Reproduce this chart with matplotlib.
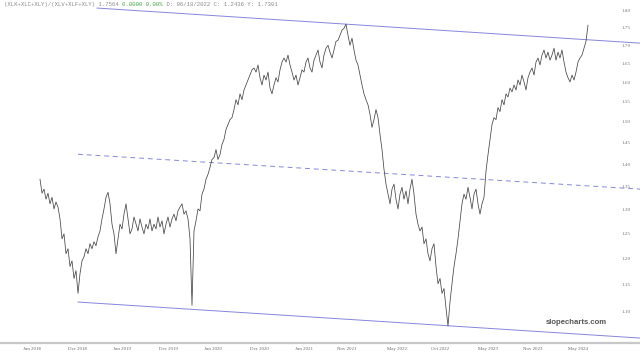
import matplotlib
matplotlib.use("Agg")
import matplotlib.pyplot as plt
import matplotlib.transforms as mtransforms
from matplotlib.ticker import NullLocator

# ---- data -------------------------------------------------------------
ratio = [
    1.367, 1.336, 1.345, 1.323, 1.336, 1.313, 1.327, 1.302, 1.317, 1.306,
    1.281, 1.240, 1.250, 1.210, 1.220, 1.185, 1.196, 1.162, 1.177, 1.134,
    1.171, 1.196, 1.204, 1.220, 1.210, 1.230, 1.220, 1.234, 1.226, 1.244,
    1.256, 1.281, 1.302, 1.327, 1.338, 1.313, 1.270, 1.250, 1.210, 1.240,
    1.270, 1.260, 1.291, 1.313, 1.281, 1.250, 1.260, 1.285, 1.270, 1.256,
    1.281, 1.264, 1.250, 1.270, 1.260, 1.281, 1.256, 1.270, 1.260, 1.285,
    1.264, 1.277, 1.250, 1.270, 1.285, 1.264, 1.281, 1.291, 1.277, 1.298,
    1.306, 1.313, 1.291, 1.298, 1.281, 1.240, 1.112, 1.256, 1.277, 1.302,
    1.298, 1.334, 1.345, 1.367, 1.378, 1.394, 1.412, 1.416, 1.435, 1.412,
    1.423, 1.447, 1.459, 1.483, 1.495, 1.507, 1.512, 1.532, 1.557, 1.544,
    1.572, 1.557, 1.582, 1.595, 1.608, 1.621, 1.635, 1.640, 1.629, 1.648,
    1.614, 1.595, 1.621, 1.608, 1.629, 1.587, 1.572, 1.595, 1.614, 1.603,
    1.635, 1.656, 1.667, 1.656, 1.675, 1.648, 1.629, 1.608, 1.621, 1.595,
    1.614, 1.635, 1.629, 1.656, 1.667, 1.640, 1.629, 1.661, 1.675, 1.689,
    1.656, 1.640, 1.675, 1.694, 1.702, 1.683, 1.667, 1.689, 1.713, 1.716,
    1.730, 1.745, 1.750, 1.762, 1.730, 1.702, 1.722, 1.689, 1.661, 1.648,
    1.621, 1.595, 1.572, 1.557, 1.544, 1.520, 1.488, 1.507, 1.532, 1.512,
    1.471, 1.435, 1.389, 1.356, 1.334, 1.313, 1.345, 1.356, 1.323, 1.302,
    1.334, 1.349, 1.323, 1.341, 1.313, 1.345, 1.367, 1.334, 1.291, 1.270,
    1.256, 1.264, 1.230, 1.240, 1.210, 1.196, 1.220, 1.230, 1.185, 1.152,
    1.162, 1.134, 1.143, 1.107, 1.075, 1.118, 1.152, 1.185, 1.210, 1.240,
    1.277, 1.313, 1.334, 1.323, 1.349, 1.327, 1.302, 1.334, 1.345, 1.313,
    1.291, 1.313, 1.327, 1.385, 1.423, 1.459, 1.495, 1.512, 1.507, 1.537,
    1.527, 1.557, 1.544, 1.572, 1.564, 1.587, 1.577, 1.595, 1.582, 1.608,
    1.595, 1.621, 1.603, 1.582, 1.614, 1.629, 1.640, 1.621, 1.656, 1.667,
    1.648, 1.675, 1.689, 1.667, 1.683, 1.661, 1.675, 1.694, 1.661, 1.683,
    1.667, 1.689, 1.656, 1.629, 1.614, 1.603, 1.621, 1.608, 1.629, 1.656,
    1.667, 1.675, 1.694, 1.713, 1.759,
]
x_index = list(range(len(ratio)))

# trend channel (index, value) endpoints
upper_x = [28.5, 300]
upper_y = [1.809, 1.708]
mid_x = [19, 300]
mid_y = [1.424, 1.345]
lower_x = [19, 300]
lower_y = [1.118, 1.054]

ytick_vals = [1.10, 1.15, 1.20, 1.25, 1.30, 1.35, 1.40, 1.45, 1.50,
              1.55, 1.60, 1.65, 1.70, 1.75, 1.80]
xtick_pos = [-4, 18.5, 41, 64, 86.5, 109.5, 132, 153.5, 178.5, 200, 224, 246.5, 269]
xtick_labels = ["Jun 2018", "Dec 2018", "Jun 2019", "Dec 2019", "Jun 2020",
                "Dec 2020", "Jun 2021", "Nov 2021", "May 2022", "Oct 2022",
                "May 2023", "Nov 2023", "May 2024"]

header_parts = [
    ("(XLK+XLC+XLY)/(XLV+XLF+XLY) 1.7564 ", "#8a8a8a"),
    ("0.0000 0.00%", "#44aa44"),
    (" D: 06/18/2022 C: 1.2436 Y: 1.7301", "#8a8a8a"),
]

# ---- figure -----------------------------------------------------------
W, H = 640, 357
fig = plt.figure(figsize=(W / 100, H / 100), dpi=100)
fig.patch.set_facecolor("white")
ax = fig.add_axes([0, (H - 343) / H, 1, 343 / H])
ax.set_facecolor("white")
ax.set_yscale("log")
ax.set_xlim(-20, 300)
ax.set_ylim(1.0455, 1.833)

ax.plot(x_index, ratio, color="#454545", lw=0.55, zorder=3)
tl = dict(color="#8585dd", lw=0.7, clip_on=False, zorder=2)
ax.plot(upper_x, upper_y, **tl)
ax.plot(lower_x, lower_y, **tl)
ax.plot(mid_x, mid_y, ls=(0, (5, 4)), **tl)

for s in ["top", "left", "right"]:
    ax.spines[s].set_visible(False)
ax.spines["bottom"].set_color("#c8c8c8")
ax.spines["bottom"].set_linewidth(1.6)

ax.yaxis.set_major_locator(NullLocator())
ax.yaxis.set_minor_locator(NullLocator())
ax.set_xticks(xtick_pos)
ax.set_xticklabels(xtick_labels, fontsize=3.5, color="#666666",
                   family="Liberation Serif")
ax.tick_params(axis="x", length=0, pad=3)

trans = mtransforms.blended_transform_factory(ax.transAxes, ax.transData)
for v in ytick_vals:
    ax.text(622 / W, v, f"{v:.2f}", transform=trans, fontsize=3.7,
            color="#777777", family="Liberation Serif", va="center", ha="left")

# header text (monospace)
fs = 4.05
cw = 0.6 * fs * 100 / 72
x0 = 4
n = 0
for txt, col in header_parts:
    fig.text((x0 + n * cw) / W, 1 - 4.5 / H, txt, fontsize=fs, color=col,
             family="Liberation Mono", va="center", ha="left")
    n += len(txt)

fig.text(607 / W, 1 - 323 / H, "slopecharts.com", fontsize=5.6, color="#555555",
         family="Liberation Sans", weight="bold", ha="right", va="center")

fig.savefig("out.png", dpi=100, facecolor="white")
